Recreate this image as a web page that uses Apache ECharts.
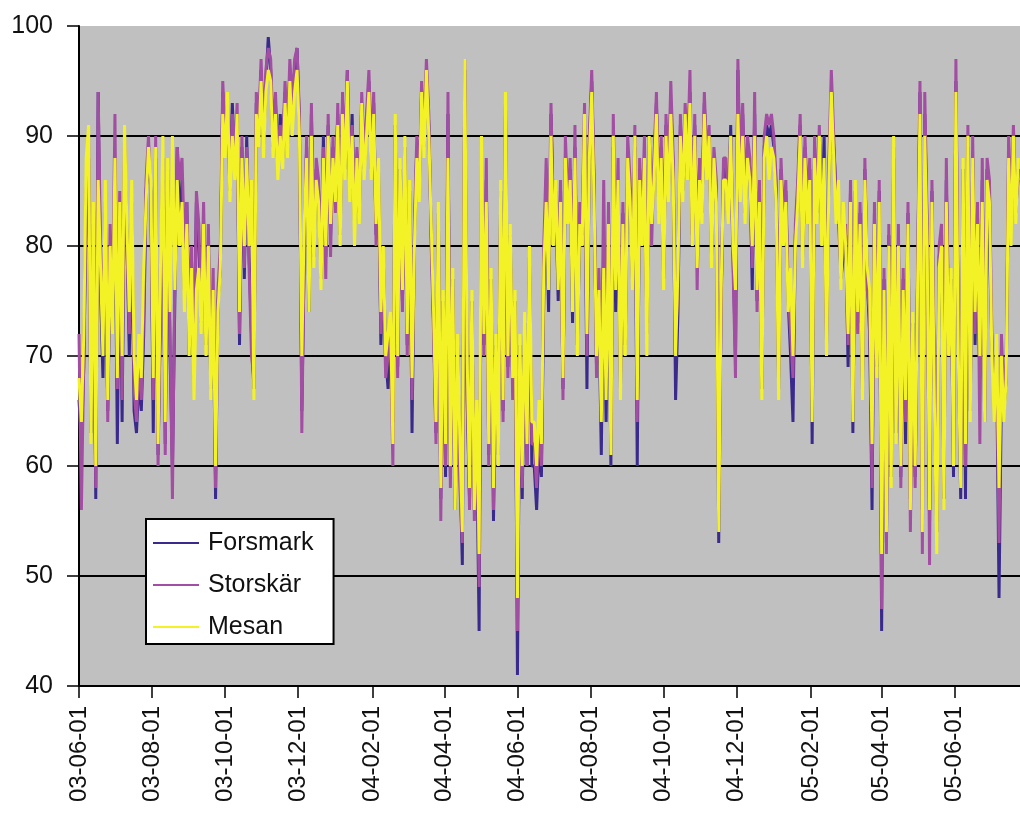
<!DOCTYPE html>
<html><head><meta charset="utf-8">
<script src="https://cdn.jsdelivr.net/npm/echarts@6/dist/echarts.min.js"></script>
<style>html,body{margin:0;padding:0;background:#fff}#c{width:1020px;height:814px}</style>
</head><body><div id="c"></div>
<script>
// Start date of the series and spacing between samples (days)
const startDate = [2003, 5, 1];
const stepDays = 2;
const axisEndDay = 785.5;

const tickLabels = ['03-06-01','03-08-01','03-10-01','03-12-01','04-02-01','04-04-01','04-06-01','04-08-01','04-10-01','04-12-01','05-02-01','05-04-01','05-06-01'];
const yTicks = [40, 50, 60, 70, 80, 90, 100];
const seriesNames = ['Forsmark', 'Storskär', 'Mesan'];

const forsmark = [
66,62,69,84,88,63,80,57,94,76, 68,83,65,78,73,86,62,82,64,88,
81,70,82,65,63,68,65,72,85,88, 85,63,88,61,74,86,62,86,70,60,
75,89,82,86,76,84,70,76,70,84, 80,73,82,71,80,67,75,57,75,78,
94,89,92,85,93,87,91,71,89,77, 90,79,72,67,93,90,96,89,95,99,
96,89,93,87,92,88,94,89,96,92, 96,98,91,65,79,89,74,92,79,87,
85,77,90,79,91,81,89,84,92,81, 93,87,96,85,92,82,88,83,93,87,
91,95,87,93,81,87,71,79,70,67, 73,64,91,69,87,75,89,71,85,63,
81,89,85,94,89,96,91,81,73,63, 83,57,75,59,92,59,77,56,71,60,
51,96,66,57,75,56,62,45,86,71, 86,61,77,55,71,61,85,65,93,69,
81,67,75,41,71,57,73,60,79,60, 60,56,62,59,76,86,74,92,83,84,
75,85,67,87,83,87,73,89,71,81, 81,91,67,89,95,85,69,74,61,80,
64,80,60,89,74,85,67,83,71,87, 85,77,89,60,87,81,88,73,90,83,
87,93,83,89,77,91,85,93,87,66, 74,91,85,90,88,94,81,91,80,87,
83,93,87,90,79,88,85,53,75,87, 87,83,91,79,70,96,85,92,83,89,
87,76,92,75,85,67,89,91,90,91, 89,85,67,87,81,85,75,70,64,81,
85,91,79,89,82,87,62,89,83,90, 81,90,71,87,93,89,85,84,77,79,
81,69,85,63,85,73,83,67,87,77, 72,56,83,69,85,45,77,53,81,59,
88,63,80,59,77,62,83,57,73,59, 77,94,56,92,81,55,85,67,54,79,
81,57,86,71,77,59,95,71,57,87, 57,89,65,88,71,83,68,86,64,87,
80,71,68,69,48,67,65,68,88,85, 89,83,87
];

const storskar = [
72,56,70,85,90,64,82,58,94,80, 72,84,64,82,74,92,67,85,66,90,
80,72,84,67,64,70,66,74,86,90, 84,66,90,60,76,88,61,87,72,57,
78,89,86,88,80,84,74,80,68,85, 82,74,84,72,82,68,78,58,76,80,
95,90,93,86,92,88,93,72,90,78, 89,78,70,68,94,91,97,90,96,98,
97,90,94,88,91,89,95,90,97,93, 97,98,92,63,80,90,76,93,80,88,
86,78,89,77,92,79,90,83,93,82, 94,88,96,86,91,84,89,84,94,88,
92,96,88,94,80,86,72,78,68,70, 72,60,90,68,86,74,88,70,84,66,
82,90,86,95,90,97,92,80,72,62, 82,55,74,60,94,58,76,57,70,58,
53,97,68,56,74,55,64,49,88,70, 88,60,76,56,70,62,84,64,92,68,
80,66,74,45,70,58,72,60,78,62, 62,58,64,60,80,88,78,93,82,85,
78,86,66,90,84,88,76,91,72,84, 82,93,70,90,96,86,68,78,66,86,
68,84,63,92,78,88,68,84,72,90, 86,78,91,64,88,82,90,72,89,80,
88,94,84,90,78,92,86,95,88,72, 76,92,86,93,88,96,80,92,76,88,
84,94,88,91,80,89,86,56,74,88, 88,84,90,78,68,97,86,93,84,90,
88,78,94,74,86,68,90,92,91,92, 90,86,68,88,82,86,76,72,68,82,
86,92,80,90,84,88,66,90,84,91, 82,86,72,88,96,90,84,82,78,80,
82,71,86,66,84,72,84,68,88,76, 74,58,84,70,86,47,78,52,82,60,
89,64,82,58,78,64,84,54,72,58, 78,95,52,94,82,51,86,68,55,80,
82,58,88,72,76,62,97,72,60,86, 60,91,66,90,72,84,62,88,66,88,
86,72,66,70,53,72,66,70,90,84, 91,84,86
];

const mesan = [
68,64,72,88,91,62,84,60,86,78, 70,86,66,80,72,88,68,84,70,91,
82,74,86,70,66,72,68,78,84,89, 86,68,89,62,78,90,64,88,74,90,
76,86,80,84,74,82,70,78,66,76, 78,72,82,70,80,66,76,60,74,78,
92,88,94,84,90,86,92,74,88,80, 88,80,86,66,92,89,95,88,94,96,
95,88,92,86,90,87,93,88,95,90, 94,96,90,70,82,88,74,90,78,86,
84,76,88,80,90,82,88,84,91,80, 92,86,95,84,90,80,88,82,93,86,
90,94,86,92,82,88,74,80,70,72, 74,62,92,70,88,76,90,72,86,68,
80,88,84,94,88,96,90,82,74,64, 84,58,76,62,88,60,78,56,72,62,
54,97,70,58,76,56,66,52,90,72, 84,62,78,58,72,60,86,66,94,70,
82,68,76,48,72,60,74,62,80,64, 64,60,66,62,78,84,76,90,80,86,
76,84,68,88,82,86,74,88,70,82, 80,92,72,88,94,84,70,76,64,78,
66,82,61,90,76,86,66,82,70,88, 84,76,90,66,86,80,88,70,90,82,
86,92,82,88,76,90,84,92,86,70, 78,90,84,92,86,93,80,90,78,86,
82,92,86,90,78,88,84,54,76,86, 86,82,90,80,76,92,84,90,82,88,
86,80,90,76,84,66,88,90,86,89, 88,84,66,86,80,84,74,78,70,80,
84,90,78,88,82,86,64,88,82,90, 80,88,70,86,94,88,82,86,76,84,
80,72,84,64,86,74,82,66,86,78, 76,62,82,68,84,52,76,54,80,58,
90,62,80,60,76,66,82,56,74,60, 76,92,54,90,80,56,84,66,52,78,
80,56,84,70,78,60,94,70,58,88, 62,90,64,88,74,82,70,84,64,86,
84,70,64,72,58,70,64,68,88,80, 90,82,88
];

const DAY = 86400000;
const t0 = Date.UTC(startDate[0], startDate[1], startDate[2]);
// x is measured in days since the start date
const pair = arr => arr.map((v, i) => [stepDays * i, v]);
const tickDays = tickLabels.map(s => { const p = s.split('-').map(Number); return Math.round((Date.UTC(2000 + p[0], p[1] - 1, p[2]) - t0) / DAY); });
const labelFor = v => { const k = tickDays.indexOf(Math.round(v)); return k >= 0 ? tickLabels[k] : ''; };

const colors = ['#3a2a8c', '#a24ea3', '#f2f226'];
const font = 'Liberation Sans, Arial, sans-serif';

const chart = echarts.init(document.getElementById('c'), null, {renderer: 'canvas'});
chart.setOption({
  animation: false,
  backgroundColor: '#ffffff',
  color: colors,
  grid: {left: 79, top: 26, right: 0, bottom: 128, show: true, backgroundColor: '#c0c0c0', borderWidth: 0},
  legend: {
    data: seriesNames,
    orient: 'vertical',
    left: 146, top: 519,
    padding: [10, 20, 3, 7],
    itemGap: 14,
    itemWidth: 46, itemHeight: 2,
    icon: 'rect',
    backgroundColor: '#ffffff',
    borderColor: '#000000', borderWidth: 2,
    textStyle: {fontFamily: font, fontSize: 25, color: '#111', lineHeight: 28, padding: [0, 0, 0, 4]}
  },
  xAxis: {
    type: 'value',
    min: 0, max: axisEndDay,
    axisLine: {show: true, onZero: false, lineStyle: {color: '#000', width: 2}},
    axisTick: {show: true, customValues: tickDays, length: 12, lineStyle: {color: '#000', width: 1.5}},
    axisLabel: {customValues: tickDays, rotate: 90, margin: 20, formatter: labelFor, fontFamily: font, fontSize: 24, color: '#111'},
    splitLine: {show: false}
  },
  yAxis: {
    type: 'value',
    min: yTicks[0], max: yTicks[yTicks.length - 1], interval: 10,
    axisLine: {show: true, lineStyle: {color: '#000', width: 2}},
    axisTick: {show: true, length: 12, lineStyle: {color: '#000', width: 1.5}},
    axisLabel: {margin: 26, fontFamily: font, fontSize: 25, color: '#111'},
    splitLine: {show: true, showMinLine: false, showMaxLine: false, lineStyle: {color: '#000', width: 2}}
  },
  series: [
    {name: seriesNames[0], type: 'line', data: pair(forsmark), showSymbol: false, symbol: 'none', lineStyle: {width: 3, color: colors[0]}},
    {name: seriesNames[1], type: 'line', data: pair(storskar), showSymbol: false, symbol: 'none', lineStyle: {width: 3, color: colors[1]}},
    {name: seriesNames[2], type: 'line', data: pair(mesan), showSymbol: false, symbol: 'none', lineStyle: {width: 3, color: colors[2]}}
  ]
});
</script></body></html>
